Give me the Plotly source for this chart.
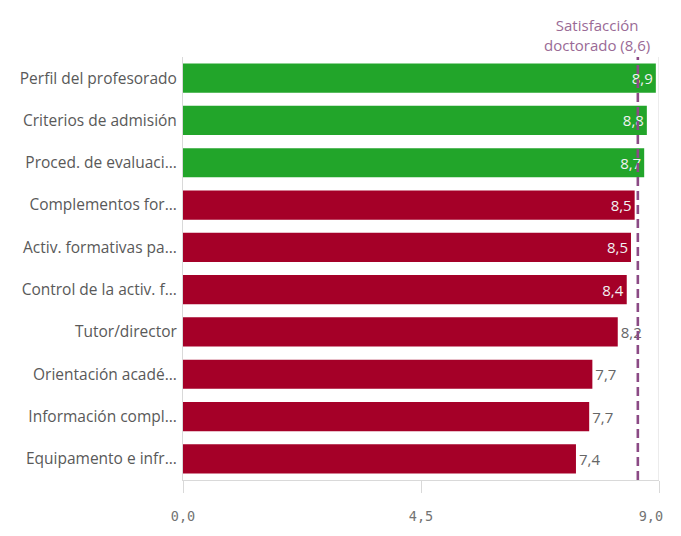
import plotly.graph_objects as go

categories = [
    "Perfil del profesorado",
    "Criterios de admisión",
    "Proced. de evaluaci...",
    "Complementos for...",
    "Activ. formativas pa...",
    "Control de la activ. f...",
    "Tutor/director",
    "Orientación acadé...",
    "Información compl...",
    "Equipamento e infr...",
]
values = [8.94, 8.77, 8.72, 8.54, 8.47, 8.39, 8.22, 7.74, 7.68, 7.43]
value_labels = ["8,9", "8,8", "8,7", "8,5", "8,5", "8,4", "8,2", "7,7", "7,7", "7,4"]
above_reference = [True, True, True, False, False, False, False, False, False, False]
reference_value = 8.6
reference_label = "Satisfacción<br>doctorado (8,6)"
tick_values = [0, 4.5, 9]
tick_labels = ["0,0", "4,5", "9,0\u00a0\u00a0"]

GREEN = "#22a52a"
RED = "#a50028"
colors = [GREEN if a else RED for a in above_reference]
positions = ["inside" if i < 6 else "outside" for i in range(len(values))]
text_colors = ["#f2f2f2" if p == "inside" else "#666666" for p in positions]

# The page body has an 8px margin; the figure is sized so the plot fits the 681x536 window.
fig = go.Figure(
    go.Bar(
        y=categories,
        x=values,
        orientation="h",
        marker=dict(color=colors, line=dict(width=0)),
        text=value_labels,
        textposition=positions,
        insidetextanchor="end",
        textfont=dict(family="Open Sans", size=15, color=text_colors),
        cliponaxis=False,
        hoverinfo="skip",
    )
)

fig.add_shape(
    type="line", xref="x", yref="paper",
    x0=reference_value, x1=reference_value, y0=0, y1=1,
    line=dict(color="#8b4a85", width=2.6, dash="9px,5px"),
    layer="above",
)
fig.add_shape(
    type="line", xref="x", yref="paper",
    x0=9, x1=9, y0=0, y1=1,
    line=dict(color="#d9d9d9", width=1),
    layer="below",
)
fig.add_annotation(
    x=reference_value, y=1, xref="x", yref="paper",
    text=reference_label, showarrow=False,
    xanchor="center", yanchor="bottom", xshift=-41, yshift=0,
    align="center",
    font=dict(family="Open Sans", size=15, color="#9a6a96"),
)

fig.update_layout(
    width=673, height=528,
    margin=dict(l=175, r=22, t=49, b=56, autoexpand=False),
    paper_bgcolor="white", plot_bgcolor="white",
    bargap=0.31,
    showlegend=False,
    font=dict(family="Open Sans", color="#595959"),
)
fig.update_xaxes(
    range=[0, 9], tickvals=tick_values, ticktext=tick_labels,
    showgrid=False, zeroline=False,
    showline=True, linecolor="#d9d9d9", linewidth=1,
    ticks="outside", ticklen=12, tickcolor="#d9d9d9",
    ticklabelstandoff=12, ticklabeloverflow="allow",
    tickfont=dict(family="DejaVu Sans Mono", size=13.5, color="#737373"),
    fixedrange=True,
)
fig.update_yaxes(
    autorange="reversed", showgrid=False, zeroline=False,
    showline=True, linecolor="#d9d9d9", linewidth=1,
    ticks="", ticklabelstandoff=2,
    tickfont=dict(family="Open Sans", size=15.5, color="#595959"),
    fixedrange=True,
)

fig.write_html("out.html", config={"displayModeBar": False})
